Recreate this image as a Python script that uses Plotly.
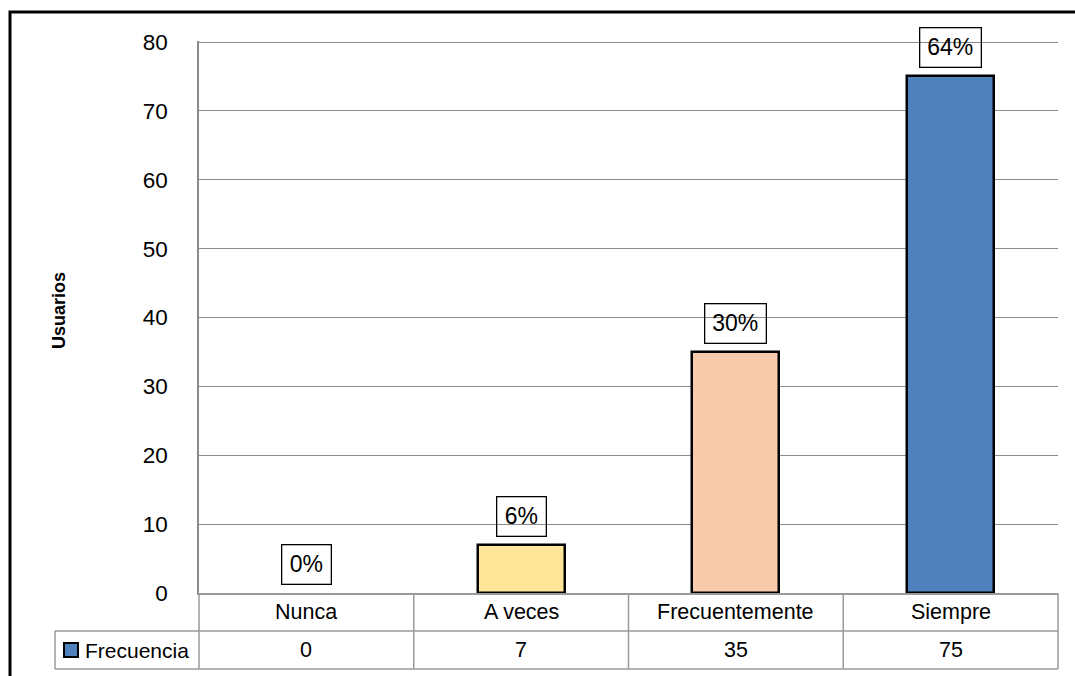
import plotly.graph_objects as go

# Survey responses: how often users do it
categories = ["Nunca", "A veces", "Frecuentemente", "Siempre"]
frecuencia = [0, 7, 35, 75]
series_name = "Frecuencia"
bar_colors = ["#FFE699", "#FFE699", "#F8CBAD", "#4F81BD"]
legend_color = "#4F81BD"
y_ticks = [0, 10, 20, 30, 40, 50, 60, 70, 80]
y_title = "Usuarios"

total = sum(frecuencia)
percent_labels = [f"{round(v * 100 / total)}%" for v in frecuencia]

FONT = "Liberation Sans Narrow, Arial Narrow, Liberation Sans, Arial, sans-serif"
GRID = "#8c8c8c"
TABLE = "#9a9a9a"

W, H = 1075, 676
L, R, T, B = 199, 17, 41, 83
PW, PH = W - L - R, H - T - B


def px_x(x):
    return (x - L) / PW


def px_y(y):
    return (H - B - y) / PH


fig = go.Figure()
fig.add_trace(go.Bar(
    x=list(range(len(categories))),
    y=frecuencia,
    width=0.405,
    marker=dict(color=bar_colors,
                line=dict(color="black", width=[2.5 if v else 0 for v in frecuencia])),
    name=series_name,
    showlegend=False,
    hoverinfo="skip",
))

annotations = []
# percentage callouts above each bar
for i, (v, lab) in enumerate(zip(frecuencia, percent_labels)):
    annotations.append(dict(
        x=i, y=v, xref="x", yref="y", text=lab, showarrow=False,
        yanchor="bottom", yshift=8,
        font=dict(family=FONT, size=23, color="black"),
        bordercolor="black", borderwidth=1.3, borderpad=4,
        width=12 * len(lab) + 16, height=30,
    ))

n = len(categories)
row1_top, row1_bot, row2_bot = 593, 631, 669
legend_left = 55

# data table below the axis: category row and value row
for i, (c, v) in enumerate(zip(categories, frecuencia)):
    xc = (i + 0.5) / n
    annotations.append(dict(
        x=xc, y=px_y((row1_top + row1_bot) / 2), xref="paper", yref="paper",
        text=c, showarrow=False, xanchor="center", yanchor="middle",
        font=dict(family=FONT, size=21.5, color="black"),
    ))
    annotations.append(dict(
        x=xc, y=px_y((row1_bot + row2_bot) / 2), xref="paper", yref="paper",
        text=str(v), showarrow=False, xanchor="center", yanchor="middle",
        font=dict(family=FONT, size=21.5, color="black"),
    ))

annotations.append(dict(
    x=px_x(83), y=px_y((row1_bot + row2_bot) / 2), xref="paper", yref="paper",
    text=series_name, showarrow=False, xanchor="left", yanchor="middle",
    font=dict(family=FONT, size=21, color="black"),
))

annotations.append(dict(
    x=px_x(59), y=px_y(311), xref="paper", yref="paper",
    text=f"<b>{y_title}</b>", showarrow=False, textangle=-90,
    xanchor="center", yanchor="middle",
    font=dict(family=FONT, size=18, color="black"),
))

shapes = []
line_kw = dict(xref="paper", yref="paper", type="line", line=dict(color=TABLE, width=1.5))
# horizontal table rules
for yy, x0 in [(row1_bot, legend_left), (row2_bot, legend_left)]:
    shapes.append(dict(x0=px_x(x0), x1=1, y0=px_y(yy), y1=px_y(yy), **line_kw))
# vertical table rules
for k in range(n + 1):
    shapes.append(dict(x0=k / n, x1=k / n, y0=px_y(row1_top), y1=px_y(row2_bot), **line_kw))
shapes.append(dict(x0=px_x(legend_left), x1=px_x(legend_left),
                   y0=px_y(row1_bot), y1=px_y(row2_bot), **line_kw))
# legend key in the table
shapes.append(dict(type="rect", xref="paper", yref="paper",
                   x0=px_x(64), x1=px_x(78), y0=px_y(657), y1=px_y(643),
                   fillcolor=legend_color, line=dict(color="black", width=2)))
# outer frame
shapes.append(dict(type="rect", xref="paper", yref="paper",
                   x0=px_x(10), x1=px_x(W + 20), y0=px_y(H + 20), y1=px_y(12),
                   line=dict(color="black", width=3), fillcolor="rgba(0,0,0,0)"))

fig.update_layout(
    width=W, height=H,
    margin=dict(l=L, r=R, t=T, b=B),
    paper_bgcolor="white", plot_bgcolor="white",
    bargap=0,
    xaxis=dict(range=[-0.5, n - 0.5], showticklabels=False, showgrid=False,
               zeroline=False, showline=True, linecolor=TABLE, linewidth=1.5,
               ticks="", fixedrange=True),
    yaxis=dict(range=[0, 80.15], tickvals=y_ticks, showgrid=True, gridcolor=GRID,
               gridwidth=1.3, zeroline=False, showline=True, linecolor=GRID,
               linewidth=1.5, ticks="", ticklabelstandoff=25,
               tickfont=dict(family=FONT, size=22.5, color="black"), fixedrange=True),
    annotations=annotations,
    shapes=shapes,
    showlegend=False,
)

fig.write_html("out.html")
